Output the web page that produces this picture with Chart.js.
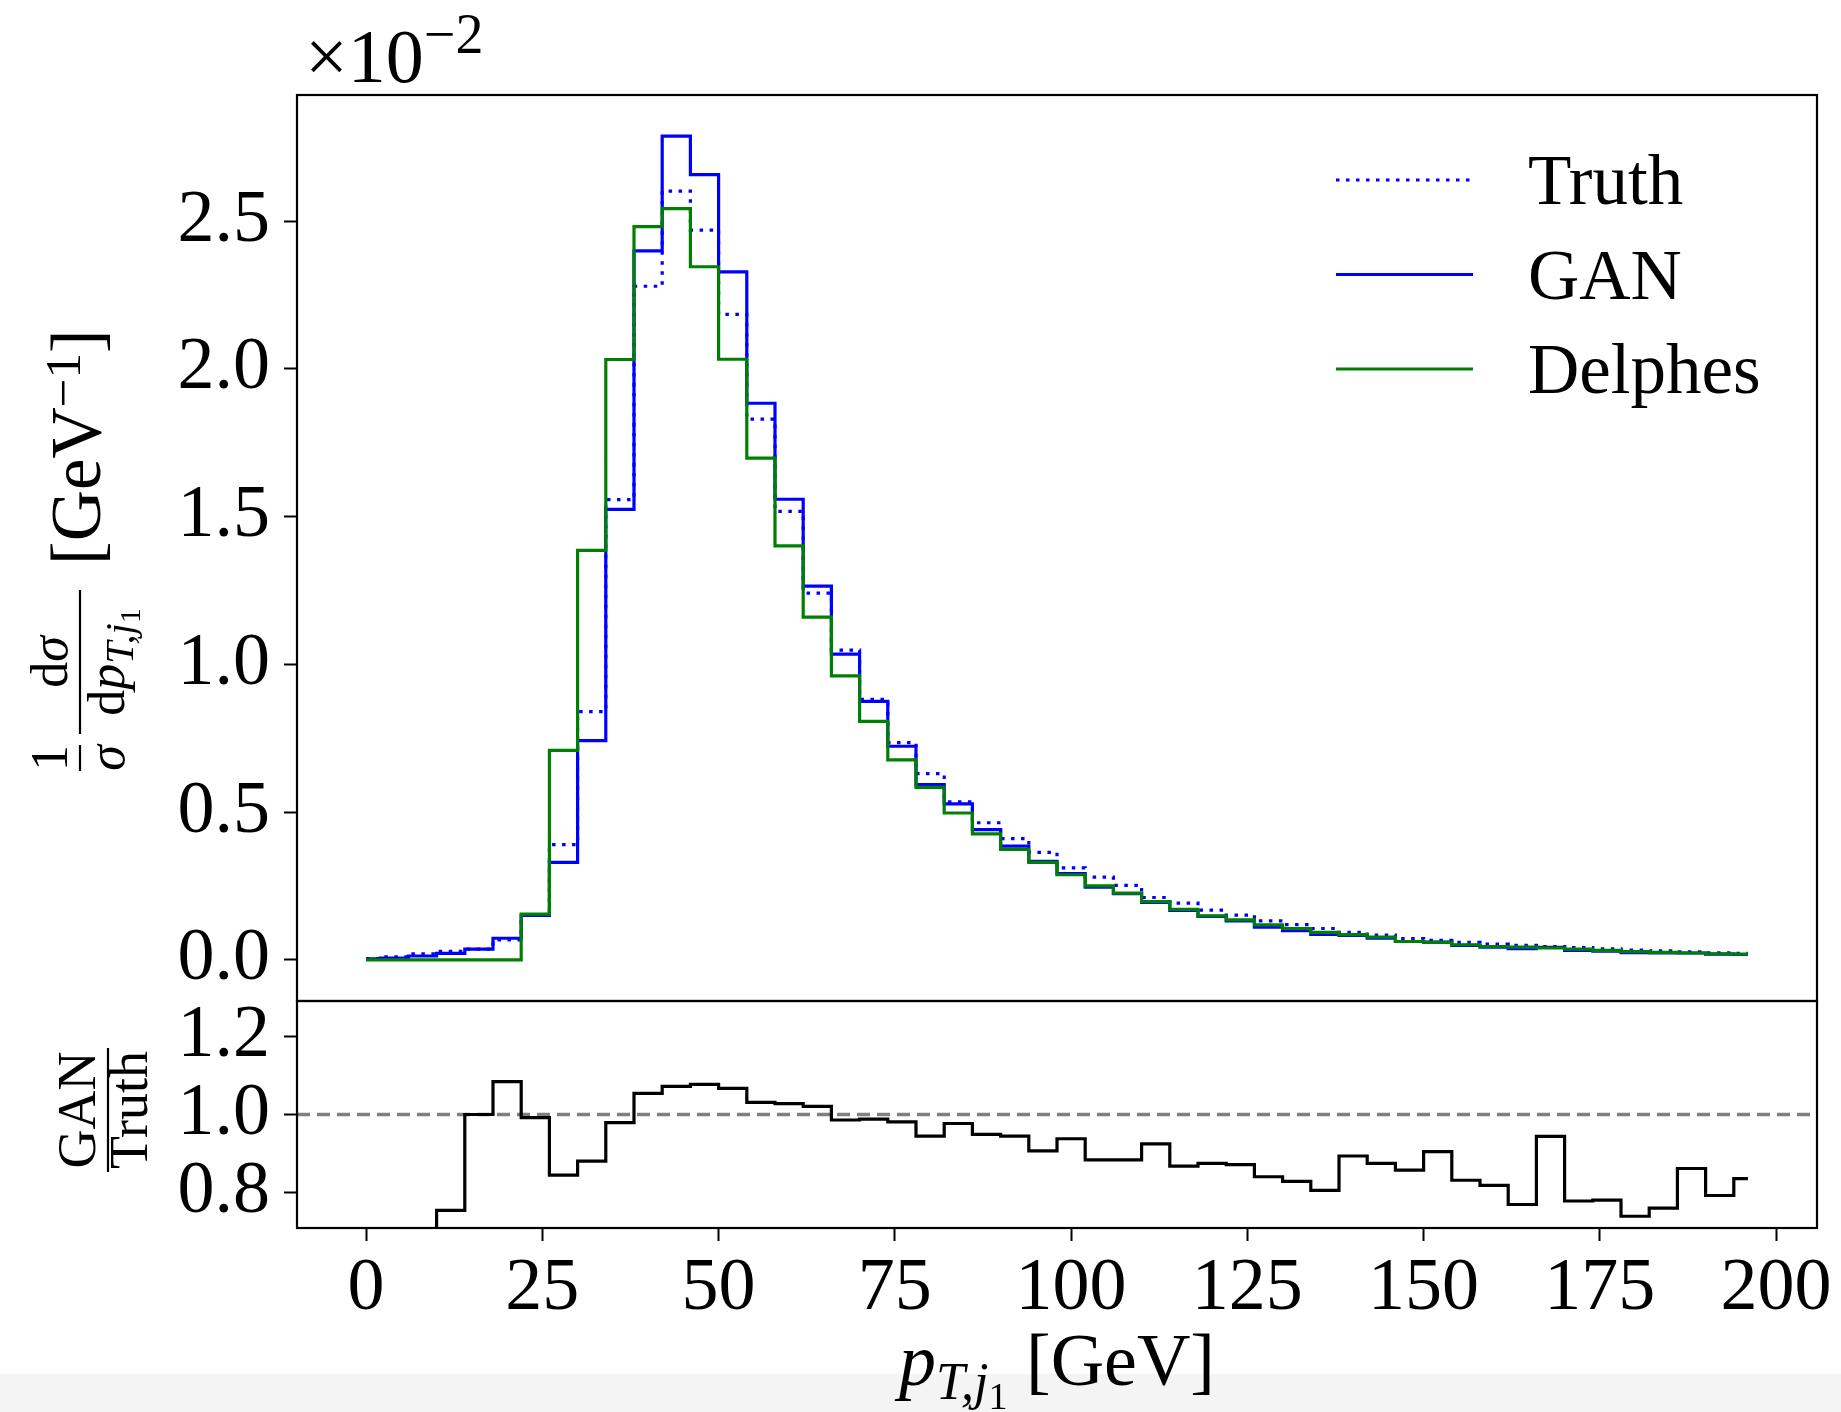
<!DOCTYPE html>
<html>
<head>
<meta charset="utf-8">
<script src="https://cdn.jsdelivr.net/npm/chart.js@4.4.0/dist/chart.umd.min.js"></script>
<style>
  body { margin: 0; background: #fff; }
  #wrap { position: relative; width: 1841px; height: 1412px; }
  #wrap canvas { position: absolute; left: 0; top: 0; }
  #strip { position: absolute; left: 0; top: 1374px; width: 1841px; height: 38px; background: #f4f4f4; }
</style>
</head>
<body>
<div id="wrap">
  <div id="strip"></div>
  <canvas id="main-chart" width="1841" height="1412"></canvas>
  <canvas id="ratio-chart" width="1841" height="1412"></canvas>
</div>
<script>
// bin centres in GeV (steps drawn at the midpoints)
const ptCenters = [0, 4, 8, 12, 16, 20, 24, 28, 32, 36, 40, 44, 48, 52, 56, 60, 64, 68, 72, 76,
    80, 84, 88, 92, 96, 100, 104, 108, 112, 116, 120, 124, 128, 132, 136, 140, 144, 148, 152, 156,
    160, 164, 168, 172, 176, 180, 184, 188, 192, 196];

// 1/sigma dsigma/dpT in units of 1e-2 GeV^-1
const truthValues = [0.004, 0.010, 0.020, 0.029, 0.036, 0.067, 0.152, 0.390, 0.840, 1.558,
    2.280, 2.602, 2.470, 2.185, 1.830, 1.518, 1.241, 1.048, 0.882, 0.735,
    0.630, 0.535, 0.464, 0.410, 0.364, 0.311, 0.280, 0.252, 0.211, 0.192,
    0.168, 0.151, 0.132, 0.119, 0.106, 0.093, 0.084, 0.072, 0.066, 0.059,
    0.053, 0.049, 0.045, 0.041, 0.037, 0.033, 0.030, 0.027, 0.024, 0.022];
const ganValues = [0.003, 0.006, 0.013, 0.022, 0.036, 0.073, 0.150, 0.330, 0.742, 1.525,
    2.400, 2.788, 2.658, 2.329, 1.884, 1.559, 1.265, 1.035, 0.875, 0.723,
    0.593, 0.528, 0.441, 0.385, 0.333, 0.292, 0.246, 0.224, 0.194, 0.167,
    0.147, 0.132, 0.111, 0.099, 0.086, 0.083, 0.073, 0.062, 0.060, 0.049,
    0.043, 0.038, 0.042, 0.032, 0.029, 0.024, 0.023, 0.023, 0.019, 0.018];
const delphesValues = [0.000, 0.000, 0.000, 0.000, 0.000, 0.000, 0.155, 0.709, 1.386, 2.032,
    2.482, 2.543, 2.346, 2.033, 1.698, 1.401, 1.160, 0.961, 0.807, 0.677,
    0.584, 0.497, 0.426, 0.374, 0.330, 0.288, 0.250, 0.226, 0.197, 0.171,
    0.149, 0.135, 0.118, 0.106, 0.093, 0.085, 0.077, 0.062, 0.059, 0.051,
    0.045, 0.043, 0.040, 0.036, 0.032, 0.028, 0.025, 0.023, 0.020, 0.019];

// GAN / Truth (first bins fall below the panel)
const ratioValues = [null, 0.40, 0.55, 0.755, 1.000, 1.084, 0.992, 0.845, 0.881, 0.979,
    1.054, 1.072, 1.077, 1.067, 1.031, 1.028, 1.021, 0.986, 0.988, 0.981,
    0.945, 0.977, 0.949, 0.945, 0.907, 0.938, 0.884, 0.884, 0.925, 0.868,
    0.875, 0.872, 0.841, 0.829, 0.806, 0.894, 0.875, 0.858, 0.905, 0.832,
    0.819, 0.770, 0.944, 0.779, 0.781, 0.740, 0.761, 0.862, 0.793, 0.836];
const ratioRef = 1.0;

const seriesLabels = ['Truth', 'GAN', 'Delphes'];
const xTicks = [0, 25, 50, 75, 100, 125, 150, 175, 200];
const mainYTicks = [0, 0.5, 1.0, 1.5, 2.0, 2.5];
const ratioYTicks = [0.8, 1.0, 1.2];

const SERIF = '"Liberation Serif", "DejaVu Serif", serif';
const f = (size, italic) => (italic ? 'italic ' : '') + size + 'px ' + SERIF;

const X_MIN = -9.8, X_MAX = 205.8;
const LW = 3.2;

function pts(values) {
    return ptCenters.map((x, i) => ({ x: x, y: values[i] }));
}

// draws a row of text pieces (for sub/superscripts), returns its width
function drawRuns(ctx, runs, x, y, align) {
    let total = 0;
    runs.forEach(r => { ctx.font = r.font; r.w = ctx.measureText(r.text).width; total += r.w; });
    let cx = align === 'center' ? x - total / 2 : (align === 'right' ? x - total : x);
    ctx.textAlign = 'left';
    ctx.textBaseline = 'alphabetic';
    runs.forEach(r => { ctx.font = r.font; ctx.fillText(r.text, cx, y + (r.dy || 0)); cx += r.w; });
    return total;
}

function bar(ctx, u1, u2, v) {
    ctx.fillRect(u1, v - 1.1, u2 - u1, 2.2);
}

const frame = {
    id: 'frame',
    afterDatasetsDraw(chart) {
        const a = chart.chartArea, ctx = chart.ctx;
        ctx.save();
        ctx.strokeStyle = '#000';
        ctx.lineWidth = 2.2;
        ctx.strokeRect(a.left, a.top, a.right - a.left, a.bottom - a.top);
        ctx.restore();
    }
};

const axisGrid = { drawOnChartArea: false, drawTicks: true, tickLength: 13, tickWidth: 2, tickColor: '#000' };
const tickFont = { family: SERIF, size: 74 };

const mainLabels = {
    id: 'mainLabels',
    afterDraw(chart) {
        const ctx = chart.ctx;
        ctx.save();
        ctx.fillStyle = '#000';
        // offset text
        drawRuns(ctx, [{ text: '×10', font: f(76) }, { text: '−2', font: f(56), dy: -29 }], 305, 82, 'left');

        // legend
        const ds = chart.data.datasets;
        seriesLabels.forEach((lab, i) => {
            const y = 180 + i * 94.5;
            ctx.save();
            ctx.strokeStyle = ds[i].borderColor;
            ctx.lineWidth = ds[i].borderWidth;
            ctx.setLineDash(ds[i].borderDash || []);
            ctx.beginPath();
            ctx.moveTo(1336, y);
            ctx.lineTo(1473, y);
            ctx.stroke();
            ctx.restore();
            drawRuns(ctx, [{ text: lab, font: f(71) }], 1528, y + 24, 'left');
        });

        // y label, rotated: u = -screenY, v = screenX
        ctx.rotate(-Math.PI / 2);
        drawRuns(ctx, [{ text: '1', font: f(52) }], -758, 67, 'center');
        bar(ctx, -771, -745, 80);
        drawRuns(ctx, [{ text: 'σ', font: f(52, true) }], -758, 124, 'center');
        drawRuns(ctx, [{ text: 'd', font: f(52) }, { text: 'σ', font: f(52, true) }], -662, 67, 'center');
        bar(ctx, -734, -590, 80);
        drawRuns(ctx, [{ text: 'd', font: f(52) }, { text: 'p', font: f(52, true) },
            { text: 'T,j', font: f(40, true), dy: 9 }, { text: '1', font: f(30), dy: 16 }], -662, 124, 'center');
        drawRuns(ctx, [{ text: '[GeV', font: f(71) }, { text: '−1', font: f(51), dy: -20 }, { text: ']', font: f(71) }],
            -565, 100, 'left');
        ctx.restore();
    }
};

const ratioLabels = {
    id: 'ratioLabels',
    beforeDatasetsDraw(chart) {
        const a = chart.chartArea, ctx = chart.ctx;
        const y = chart.scales.y.getPixelForValue(ratioRef);
        ctx.save();
        ctx.strokeStyle = '#808080';
        ctx.lineWidth = 3.5;
        ctx.setLineDash([13, 7]);
        ctx.beginPath();
        ctx.moveTo(a.left, y);
        ctx.lineTo(a.right, y);
        ctx.stroke();
        ctx.restore();
    },
    afterDraw(chart) {
        const ctx = chart.ctx;
        ctx.save();
        ctx.fillStyle = '#000';
        drawRuns(ctx, [{ text: 'p', font: f(74, true) }, { text: 'T,j', font: f(52, true), dy: 14 },
            { text: '1', font: f(38), dy: 24 }, { text: ' [GeV]', font: f(74) }], 1057, 1385, 'center');

        ctx.rotate(-Math.PI / 2);
        const wTop = drawRuns(ctx, [{ text: 'GAN', font: f(54) }], -1110, 95, 'center');
        const wBot = drawRuns(ctx, [{ text: 'Truth', font: f(54) }], -1110, 147, 'center');
        const half = Math.max(wTop, wBot) / 2 + 3;
        bar(ctx, -1110 - half, -1110 + half, 108);
        ctx.restore();
    }
};

new Chart(document.getElementById('main-chart').getContext('2d'), {
    type: 'line',
    data: {
        datasets: [{
            label: seriesLabels[0],
            data: pts(truthValues),
            borderColor: '#0000ff',
            borderWidth: LW,
            borderDash: [3.5, 6.5],
            stepped: 'middle',
            pointRadius: 0,
            order: 2
        }, {
            label: seriesLabels[1],
            data: pts(ganValues),
            borderColor: '#0000ff',
            borderWidth: LW,
            stepped: 'middle',
            pointRadius: 0,
            order: 1
        }, {
            label: seriesLabels[2],
            data: pts(delphesValues),
            borderColor: '#008000',
            borderWidth: LW,
            stepped: 'middle',
            pointRadius: 0,
            order: 0
        }]
    },
    options: {
        responsive: false,
        animation: false,
        devicePixelRatio: 1,
        layout: { padding: { left: 0, top: 95, right: 24, bottom: 411 } },
        scales: {
            x: { type: 'linear', min: X_MIN, max: X_MAX, display: false },
            y: {
                type: 'linear', min: -0.1394, max: 2.9274,
                afterBuildTicks: s => { s.ticks = mainYTicks.map(v => ({ value: v })); },
                afterFit: s => { s.width = 297; },
                ticks: { font: tickFont, color: '#000', padding: 14, callback: v => v.toFixed(1) },
                grid: axisGrid,
                border: { display: false }
            }
        },
        plugins: { legend: { display: false }, tooltip: { enabled: false } }
    },
    plugins: [frame, mainLabels]
});

new Chart(document.getElementById('ratio-chart').getContext('2d'), {
    type: 'line',
    data: {
        datasets: [{
            label: 'GAN/Truth',
            data: pts(ratioValues),
            borderColor: '#000',
            borderWidth: LW,
            stepped: 'middle',
            pointRadius: 0,
            spanGaps: false
        }]
    },
    options: {
        responsive: false,
        animation: false,
        devicePixelRatio: 1,
        layout: { padding: { left: 0, top: 1001, right: 24, bottom: 0 } },
        scales: {
            x: {
                type: 'linear', min: X_MIN, max: X_MAX,
                afterBuildTicks: s => { s.ticks = xTicks.map(v => ({ value: v })); },
                afterFit: s => { s.height = 184; },
                ticks: { font: tickFont, color: '#000', padding: 4, autoSkip: false, maxRotation: 0 },
                grid: axisGrid,
                border: { display: false }
            },
            y: {
                type: 'linear', min: 0.71, max: 1.29,
                afterBuildTicks: s => { s.ticks = ratioYTicks.map(v => ({ value: v })); },
                afterFit: s => { s.width = 297; },
                ticks: { font: tickFont, color: '#000', padding: 14, callback: v => v.toFixed(1) },
                grid: axisGrid,
                border: { display: false }
            }
        },
        plugins: { legend: { display: false }, tooltip: { enabled: false } }
    },
    plugins: [frame, ratioLabels]
});
</script>
</body>
</html>
